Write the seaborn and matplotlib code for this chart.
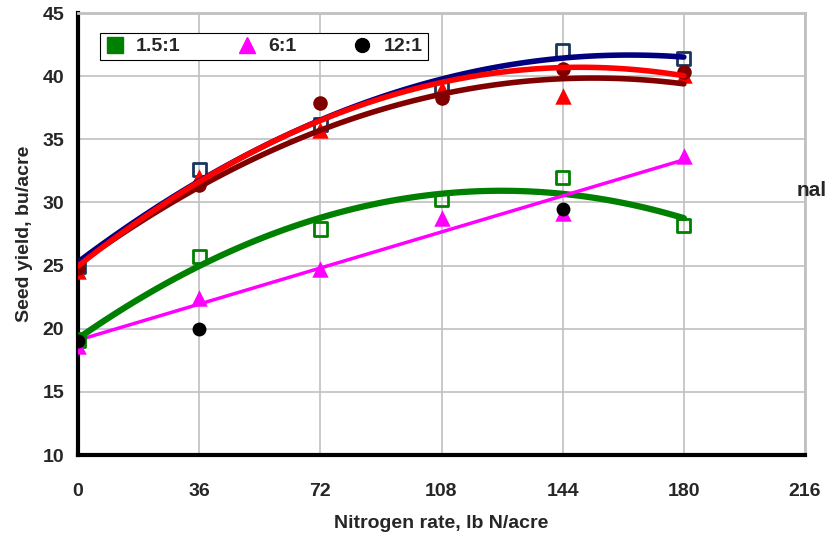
import numpy as np
import pandas as pd
import matplotlib
matplotlib.use('Agg')
import matplotlib.pyplot as plt
from matplotlib.lines import Line2D
import seaborn as sns

# nitrogen rates, lb N/acre
n_rate = [0, 36, 72, 108, 144, 180]

# seed yield, bu/acre
g_15 = [19.1, 25.7, 27.9, 30.2, 32.0, 28.2]
m_6 = [18.6, 22.4, 24.7, 28.8, 29.2, 33.7]
k_12_rate = [0, 36, 144]
k_12 = [19.0, 20.0, 29.5]

b_15 = [24.9, 32.6, 36.2, 39.1, 42.0, 41.4]
r_6 = [24.6, 32.0, 35.7, 39.0, 38.4, 40.1]
d_12 = [24.8, 31.4, 37.9, 38.3, 40.6, 40.3]

legend_labels = ['1.5:1', '6:1', '12:1']

sns.set_style('white')
plt.rcParams['font.family'] = ['Liberation Sans', 'DejaVu Sans']
plt.rcParams['font.weight'] = 'bold'

fig = plt.figure(figsize=(8.32, 5.40), dpi=100)
ax = fig.add_axes([78 / 832, 1 - 455 / 540, 727 / 832, 442 / 540])
ax.set_facecolor('white')

# caption mostly hidden behind the plot, only its tail shows
fig.text(797 / 832, 1 - 190 / 540, 'nal', fontsize=15, fontweight='bold',
         va='center', ha='left', zorder=0)

df = pd.DataFrame({'rate': n_rate, 'g': g_15, 'm': m_6, 'b': b_15,
                   'r': r_6, 'd': d_12})
dk = pd.DataFrame({'rate': k_12_rate, 'k': k_12})

# trend lines
sns.regplot(data=df, x='rate', y='g', order=2, ci=None, scatter=False, ax=ax,
            line_kws=dict(color='#008000', lw=4.5, zorder=3))
sns.regplot(data=df, x='rate', y='m', order=1, ci=None, scatter=False, ax=ax,
            line_kws=dict(color='#ff00ff', lw=2.5, zorder=3))
sns.regplot(data=df, x='rate', y='r', order=2, ci=None, scatter=False, ax=ax,
            line_kws=dict(color='#800000', lw=4, zorder=3))
sns.regplot(data=df, x='rate', y='b', order=2, ci=None, scatter=False, ax=ax,
            line_kws=dict(color='#000080', lw=4, zorder=3))
sns.regplot(data=df, x='rate', y='d', order=2, ci=None, scatter=False, ax=ax,
            line_kws=dict(color='#ff0000', lw=4, zorder=3.1))

# markers
sns.scatterplot(data=df, x='rate', y='g', marker='s', s=90, facecolor='none',
                edgecolor='#008000', linewidth=2, ax=ax, zorder=4)
sns.scatterplot(data=df, x='rate', y='m', marker='^', s=140, color='#ff00ff',
                linewidth=0, ax=ax, zorder=4)
sns.scatterplot(data=dk, x='rate', y='k', marker='o', s=100, color='black',
                linewidth=0, ax=ax, zorder=4.2)
sns.scatterplot(data=df, x='rate', y='b', marker='s', s=90, facecolor='none',
                edgecolor='#17375e', linewidth=2, ax=ax, zorder=2.8)
sns.scatterplot(data=df, x='rate', y='r', marker='^', s=140, color='#ff0000',
                linewidth=0, ax=ax, zorder=2.8)
sns.scatterplot(data=df, x='rate', y='d', marker='o', s=110, color='#800000',
                linewidth=0, ax=ax, zorder=2.9)

ax.set_xlim(0, 216)
ax.set_ylim(10, 45)
ax.set_xticks(np.arange(0, 217, 36))
ax.set_yticks(np.arange(10, 46, 5))
ax.grid(True, color='#c0c0c0', lw=1.2)
ax.set_axisbelow(True)

for side in ['top', 'right']:
    ax.spines[side].set_color('#c0c0c0')
    ax.spines[side].set_linewidth(2)
for side in ['left', 'bottom']:
    ax.spines[side].set_color('black')
    ax.spines[side].set_linewidth(3)

ax.tick_params(axis='both', which='major', direction='out', length=3, width=5,
               color='black', labelsize=14)
ax.tick_params(axis='x', pad=17)
ax.tick_params(axis='y', pad=7)

ax.set_xlabel('Nitrogen rate, lb N/acre', fontsize=14, fontweight='bold', labelpad=11)
ax.set_ylabel('Seed yield, bu/acre', fontsize=14, fontweight='bold', labelpad=7)

handles = [
    Line2D([], [], marker='s', ls='none', markersize=11, markerfacecolor='#008000',
           markeredgecolor='#008000'),
    Line2D([], [], marker='^', ls='none', markersize=12, color='#ff00ff'),
    Line2D([], [], marker='o', ls='none', markersize=10, color='black'),
]
leg = ax.legend(handles, legend_labels, loc='upper left', ncol=3,
                bbox_to_anchor=(22 / 727, 1 - 20 / 442), borderaxespad=0,
                frameon=True, fancybox=False, edgecolor='black', framealpha=1,
                prop={'size': 14, 'weight': 'bold'}, handlelength=1,
                handletextpad=0.6, columnspacing=2.9, borderpad=0.25)
leg.get_frame().set_linewidth(0.8)
leg.set_zorder(6)

fig.savefig('out.png', dpi=100)
